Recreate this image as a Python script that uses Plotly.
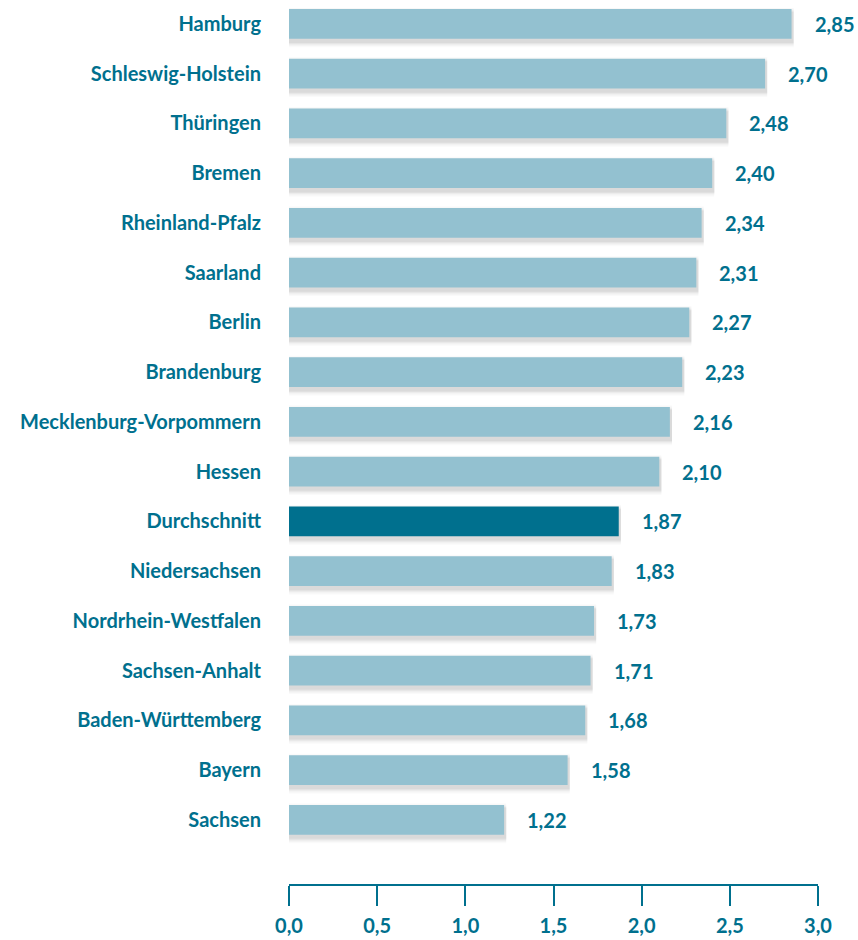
import plotly.graph_objects as go

# Werte von oben nach unten, wie im Original
laender = [
    "Hamburg", "Schleswig-Holstein", "Thüringen", "Bremen", "Rheinland-Pfalz",
    "Saarland", "Berlin", "Brandenburg", "Mecklenburg-Vorpommern", "Hessen",
    "Durchschnitt", "Niedersachsen", "Nordrhein-Westfalen", "Sachsen-Anhalt",
    "Baden-Württemberg", "Bayern", "Sachsen",
]
werte = [2.85, 2.70, 2.48, 2.40, 2.34, 2.31, 2.27, 2.23, 2.16, 2.10,
         1.87, 1.83, 1.73, 1.71, 1.68, 1.58, 1.22]
tick_werte = [0, 0.5, 1.0, 1.5, 2.0, 2.5, 3.0]
tick_texte = ["0,0", "0,5", "1,0", "1,5", "2,0", "2,5", "3,0"]

# Reihenfolge umdrehen, damit Hamburg oben steht
kat = laender[::-1]
val = werte[::-1]

teal = "#00708E"
hell = "#93C1D0"
schrift = "Lato"
gr = 20

farben = [teal if k == "Durchschnitt" else hell for k in kat]

fig = go.Figure()

# weicher Schatten unter den Balken (mehrere transparente Lagen)
for spread, alpha in [(0.10, 0.025), (0.075, 0.03), (0.05, 0.04), (0.03, 0.05), (0.012, 0.05)]:
    fig.add_trace(go.Bar(
        y=list(range(len(kat))), x=[v + 0.012 for v in val], orientation="h",
        width=0.6 + 2 * spread, offset=-0.3 - 0.07 - spread,
        marker=dict(color=f"rgba(60,60,60,{alpha})", line=dict(width=0)),
        hoverinfo="skip", showlegend=False,
    ))

fig.add_trace(go.Bar(
    y=list(range(len(kat))), x=val, orientation="h",
    width=0.6, offset=-0.3,
    marker=dict(color=farben, line=dict(width=0)),
    showlegend=False,
))

for i, v in enumerate(val):
    fig.add_annotation(
        x=v, y=i, text=f"{v:.2f}".replace(".", ","),
        xanchor="left", xshift=21, showarrow=False,
        font=dict(family=schrift, size=gr, color=teal, weight="bold"),
    )

fig.update_layout(
    width=858, height=940,
    margin=dict(l=289, r=40, t=8, b=56),
    barmode="overlay",
    plot_bgcolor="white", paper_bgcolor="white",
    font=dict(family=schrift, size=gr, color=teal),
)

fig.update_yaxes(
    tickvals=list(range(len(kat))), ticktext=kat,
    range=[-1.29, 16.32], showgrid=False, zeroline=False,
    ticks="", ticklabelstandoff=27, automargin=False,
    tickfont=dict(family=schrift, size=gr, color=teal, weight="bold"),
)

fig.update_xaxes(
    range=[0, 3.0], tickvals=tick_werte, ticktext=tick_texte,
    showgrid=False, zeroline=False, automargin=False,
    showline=True, linecolor=teal, linewidth=2,
    ticks="outside", ticklen=20, tickwidth=2, tickcolor=teal,
    ticklabelstandoff=3,
    tickfont=dict(family=schrift, size=gr, color=teal, weight="bold"),
)

# Seitenrand entfernen, damit die Grafik genau ins Fenster passt
fig.write_html(
    "out.html",
    config={"displayModeBar": False},
    post_script="document.body.style.margin='0';document.body.style.overflow='hidden';",
)
